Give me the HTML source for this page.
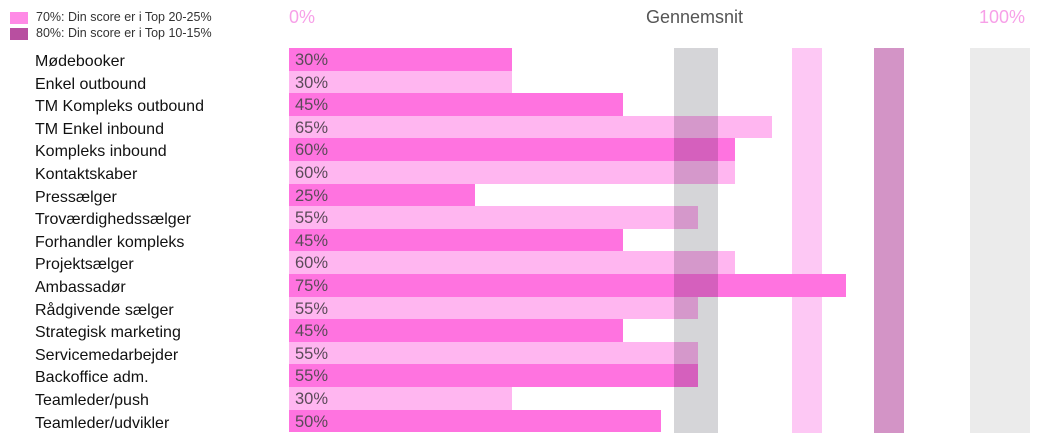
<!DOCTYPE html><html><head><style>
body{margin:0;width:1054px;height:442px;background:#fff;position:relative;overflow:hidden;font-family:"Liberation Sans",sans-serif}
div{position:absolute}
.lab{left:35px;font-size:16px;color:#111;line-height:22px}
.bar{left:289px;height:22px}
.pct{left:295px;font-size:16.5px;color:#5a4a58;line-height:22px}
.d{background:#ff73e0}.l{background:#ffb6f0}
.band{top:48px;height:385px}
</style></head><body>
<div style="left:10px;top:12px;width:18px;height:12px;background:#ff8ae6"></div>
<div style="left:10px;top:28px;width:18px;height:12px;background:#b84fa0"></div>
<div style="left:36px;top:10px;font-size:12.5px;color:#333">70%: Din score er i Top 20-25%</div>
<div style="left:36px;top:26px;font-size:12.5px;color:#333">80%: Din score er i Top 10-15%</div>
<div style="left:289px;top:7px;font-size:18px;color:#f7a0e8">0%</div>
<div style="left:646px;top:7px;font-size:18px;color:#555">Gennemsnit</div>
<div style="left:979px;top:7px;font-size:18px;color:#f7a0e8">100%</div>
<div class="band" style="left:792px;width:30px;background:#fdc8f4"></div>
<div class="band" style="left:874px;width:30px;background:#d394c6"></div>
<div class="band" style="left:970px;width:60px;background:#ebebeb"></div>
<div id="rows"></div>
<div class="band" style="left:674px;width:44px;background:#d5d5d8;mix-blend-mode:multiply"></div>
<script>
var d=[["Mødebooker",30],["Enkel outbound",30],["TM Kompleks outbound",45],["TM Enkel inbound",65],["Kompleks inbound",60],["Kontaktskaber",60],["Pressælger",25],["Troværdighedssælger",55],["Forhandler kompleks",45],["Projektsælger",60],["Ambassadør",75],["Rådgivende sælger",55],["Strategisk marketing",45],["Servicemedarbejder",55],["Backoffice adm.",55],["Teamleder/push",30],["Teamleder/udvikler",50]];
var h="";d.forEach(function(r,i){var y=48+i*22.6;var c=i%2==0?"d":"l";
h+='<div class="bar '+c+'" style="top:'+y+'px;height:22.6px;width:'+(r[1]*7.43)+'px"></div>';
h+='<div class="pct" style="top:'+(y+1)+'px">'+r[1]+'%</div>';
h+='<div class="lab" style="top:'+(y+3)+'px">'+r[0]+'</div>';});
document.getElementById("rows").outerHTML=h;
</script>
</body></html>
